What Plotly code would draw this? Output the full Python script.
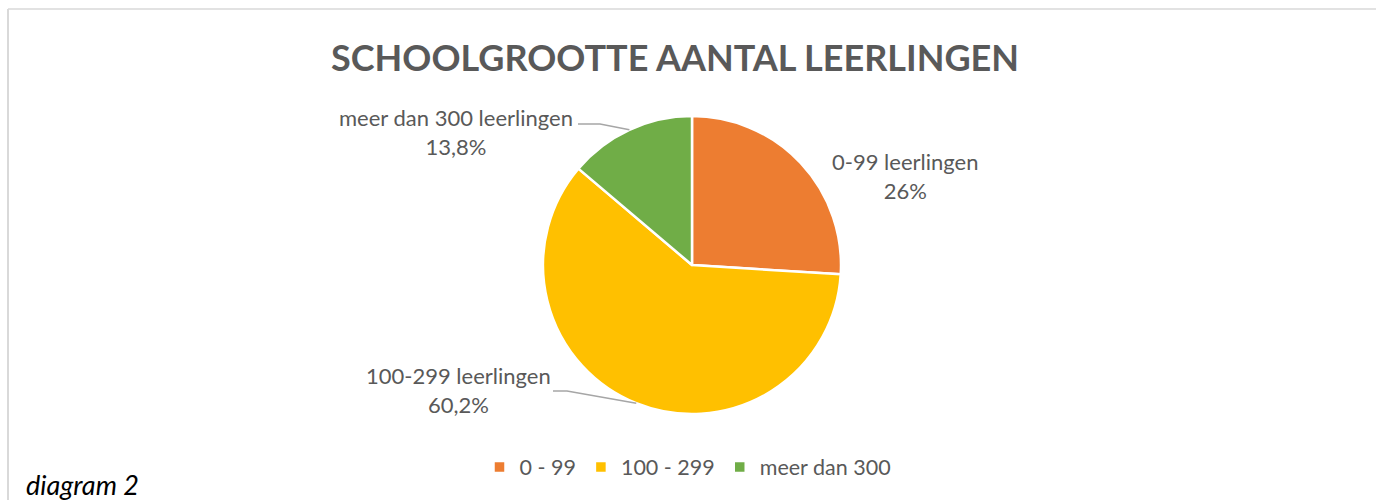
import math
import plotly.graph_objects as go

# ---- data ----
categories = ["0 - 99", "100 - 299", "meer dan 300"]
label_names = ["0-99 leerlingen", "100-299 leerlingen", "meer dan 300 leerlingen"]
values = [26, 60.2, 13.8]
colors = ["#ED7D31", "#FFC000", "#70AD47"]
title_text = "SCHOOLGROOTTE AANTAL LEERLINGEN"
caption_text = "diagram 2"

W, H = 1376, 500
FONT = "Lato"
GREY = "#595959"

def px(x):
    return x / W

def py(y):
    return 1 - y / H

# pie placement (pixels)
cx, cy, r = 692, 265, 149

fig = go.Figure()
fig.add_trace(go.Pie(
    labels=categories,
    values=values,
    marker=dict(colors=colors, line=dict(color="white", width=2.5)),
    sort=False,
    direction="clockwise",
    rotation=0,
    textinfo="none",
    hoverinfo="label+percent",
    domain=dict(x=[px(cx - r), px(cx + r)], y=[py(cy + r), py(cy - r)]),
    showlegend=True,
))

def pct_text(v):
    return f"{v:g}".replace(".", ",") + "%"

# label positions (pixel centres) and leader line elbows
label_pos = [(905, 176), (458, 390), (456, 132)]
leader = [None, (553, 391, 567), (578, 124, 600)]

total = sum(values)
cum = 0
annotations = []
shapes = []
for i, v in enumerate(values):
    mid = (cum + v / 2) / total * 2 * math.pi
    cum += v
    lx, ly = label_pos[i]
    annotations.append(dict(
        x=px(lx), y=py(ly), xref="paper", yref="paper",
        text=f"{label_names[i]}<br>{pct_text(v)}",
        showarrow=False, xanchor="center", yanchor="middle",
        font=dict(family=FONT, size=22, color=GREY), align="center",
    ))
    if leader[i] is not None:
        sx, sy, ex = leader[i]
        ex_pt = cx + r * math.sin(mid)
        ey_pt = cy - r * math.cos(mid)
        shapes.append(dict(type="path", xref="paper", yref="paper",
                           path=f"M {px(sx)} {py(sy)} L {px(ex)} {py(sy)} L {px(ex_pt)} {py(ey_pt)}",
                           line=dict(color="#A6A6A6", width=1.5)))

annotations.append(dict(
    x=px(675), y=py(57), xref="paper", yref="paper", text=f"<b>{title_text}</b>",
    showarrow=False, xanchor="center", yanchor="middle",
    font=dict(family=FONT, size=36, color=GREY),
))
annotations.append(dict(
    x=px(24), y=py(484), xref="paper", yref="paper", text=f"<i>{caption_text}</i>",
    showarrow=False, xanchor="left", yanchor="middle",
    font=dict(family=FONT, size=27, color="#000000"),
))

# chart border (top and left edges visible)
shapes.append(dict(type="line", xref="paper", yref="paper", x0=px(8), x1=1.01, y0=py(9), y1=py(9),
                   line=dict(color="#D9D9D9", width=1.5)))
shapes.append(dict(type="line", xref="paper", yref="paper", x0=px(8), x1=px(8), y0=-0.01, y1=py(9),
                   line=dict(color="#D9D9D9", width=2)))

fig.update_layout(
    width=W, height=H,
    margin=dict(l=0, r=0, t=0, b=0),
    paper_bgcolor="white", plot_bgcolor="white",
    annotations=annotations, shapes=shapes,
    legend=dict(orientation="h", x=px(688), y=py(467), xanchor="center", yanchor="middle",
                font=dict(family=FONT, size=21.5, color=GREY), itemwidth=30,
                traceorder="normal"),
    font=dict(family=FONT),
)

fig.write_html(
    "out.html",
    config={"displayModeBar": False},
    post_script="document.body.style.margin='0';document.body.style.overflow='hidden';",
)
